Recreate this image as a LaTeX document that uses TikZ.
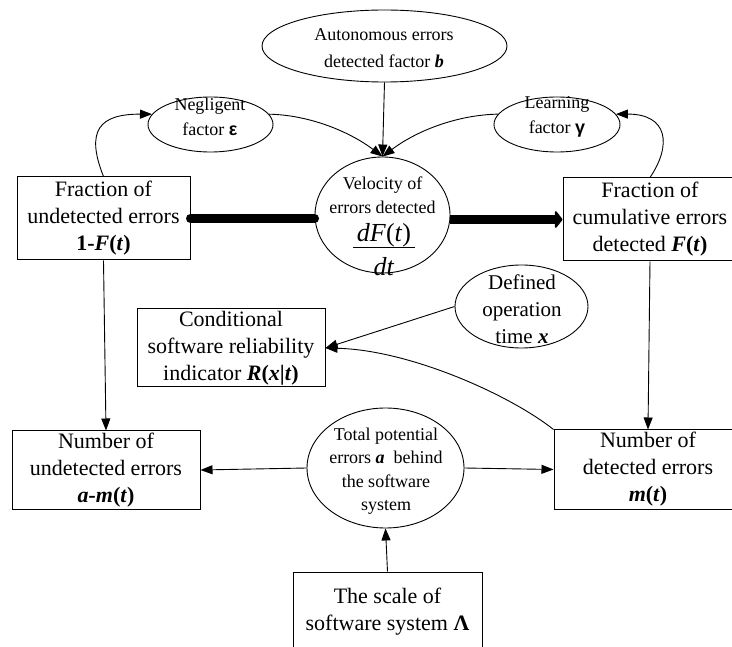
\documentclass[tikz,border=0pt]{standalone}
\usepackage{fontspec}
\setmainfont{Liberation Serif}
\newfontfamily\symsans{Liberation Sans}
\usetikzlibrary{arrows.meta,shapes.geometric}
\newcommand{\bi}[1]{\textbf{\textit{#1}}}
\begin{document}
\begin{tikzpicture}[x=1pt,y=-1pt,
  boxnode/.style={draw, line width=1pt, rectangle, inner sep=0pt, align=center, font=\fontsize{22}{27}\selectfont},
  ellnode/.style={draw, line width=0.9pt, ellipse, inner sep=0pt},
  lbl/.style={inner sep=0pt, align=center},
  arr/.style={line width=0.9pt, -{Triangle[length=12pt,width=9pt]}},
  bigarr/.style={line width=9pt}
]
\useasboundingbox (0,0) rectangle (732,647);
\clip (0,0) rectangle (732,647);

% boxes
\node[boxnode, minimum width=173pt, minimum height=83pt] (undF) at (103.5,218.5)
  {Fraction of\\undetected errors\\\textbf{1-}\bi{F}\textbf{(}\bi{t}\textbf{)}};
\node[boxnode, minimum width=174pt, minimum height=83pt] (cumF) at (650,219.5)
  {Fraction of\\cumulative errors\\detected \bi{F}\textbf{(}\bi{t}\textbf{)}};
\node[boxnode, minimum width=188pt, minimum height=78pt] (cond) at (231,348)
  {Conditional\\software reliability\\indicator \bi{R}\textbf{(}\bi{x}\textbf{|}\bi{t}\textbf{)}};
\node[boxnode, minimum width=188pt, minimum height=78pt] (nud) at (106,470)
  {Number of\\undetected errors\\\bi{a-m}\textbf{(}\bi{t}\textbf{)}};
\node[boxnode, minimum width=188pt, minimum height=79pt] (ndet) at (648,469.5)
  {Number of\\detected errors\\\bi{m}\textbf{(}\bi{t}\textbf{)}};
\node[boxnode, minimum width=189pt, minimum height=80pt] (scale) at (387.5,612)
  {The scale of\\software system \textbf{Λ}};

% ellipses
\node[ellnode, minimum width=245pt, minimum height=72pt] (aut) at (384.5,46) {};
\node[lbl, font=\fontsize{18}{27}\selectfont] (autT) at (384,48) {Autonomous errors\\detected factor \bi{b}};
\node[ellnode, minimum width=125pt, minimum height=55pt] (neg) at (210.5,124.5) {};
\node[lbl, font=\fontsize{18}{25}\selectfont] (negT) at (210,117) {Negligent\\factor {\symsans\bfseries ε}};
\node[ellnode, minimum width=126pt, minimum height=55pt] (learn) at (557,124.5) {};
\node[lbl, font=\fontsize{18}{25}\selectfont] (learnT) at (557,117) {Learning\\factor {\symsans\bfseries γ}};
\node[ellnode, minimum width=135pt, minimum height=116pt] (vel) at (382.5,215) {};
\node[ellnode, minimum width=133pt, minimum height=83pt] (def) at (521.5,306.5) {};
\node[lbl, font=\fontsize{21}{27}\selectfont] (defT) at (522,309) {Defined\\operation\\time \bi{x}};
\node[ellnode, minimum width=157pt, minimum height=120pt] (tot) at (385.5,468) {};
\node[lbl, font=\fontsize{18}{23.5}\selectfont] (totT) at (386,471) {Total potential\\errors \bi{a}~ behind\\the software\\system};

% thick flow
\draw[bigarr, line cap=round] (undF.east) -- (undF.east -| vel.west);
\draw[bigarr, -{Triangle[round,length=8pt,width=20pt]}] (vel.east |- cumF.west) -- (cumF.west);

% velocity text (drawn over thick line ends)
\node[lbl, font=\fontsize{18}{24}\selectfont] (velT) at (382.5,195) {Velocity of\\errors detected};
\node[lbl, anchor=base, font=\fontsize{26}{26}\selectfont] (velN) at (384,242) {\textit{dF}(\textit{t})};
\draw[line width=1pt] (353,248) -- (415,248);
\node[lbl, anchor=base, font=\fontsize{26}{26}\selectfont] (velD) at (384,276) {\textit{dt}};

% arrows
\draw[arr] (undF.north) .. controls (85,130) and (100,114) .. (neg.170);
\draw[arr] (neg.10) .. controls (310,115) and (350,132) .. (vel.north);
\draw[arr] (aut.south) -- (vel.north);
\draw[arr] (learn.170) .. controls (455,115) and (415,132) .. (vel.north);
\draw[arr] (cumF.north) .. controls (672,145) and (668,114) .. (learn.10);
\draw[arr] (undF.south) -- (nud.north);
\draw[arr] (cumF.south) -- (ndet.north);
\draw[arr] (def.west) -- (cond.east);
\draw[arr] (ndet.north west) .. controls (510,395) and (410,350) .. (cond.east);
\draw[arr] (tot.west) -- (nud.east);
\draw[arr] (tot.east) -- (ndet.west);
\draw[arr] (scale.north) -- (tot.south);
\end{tikzpicture}
\end{document}
